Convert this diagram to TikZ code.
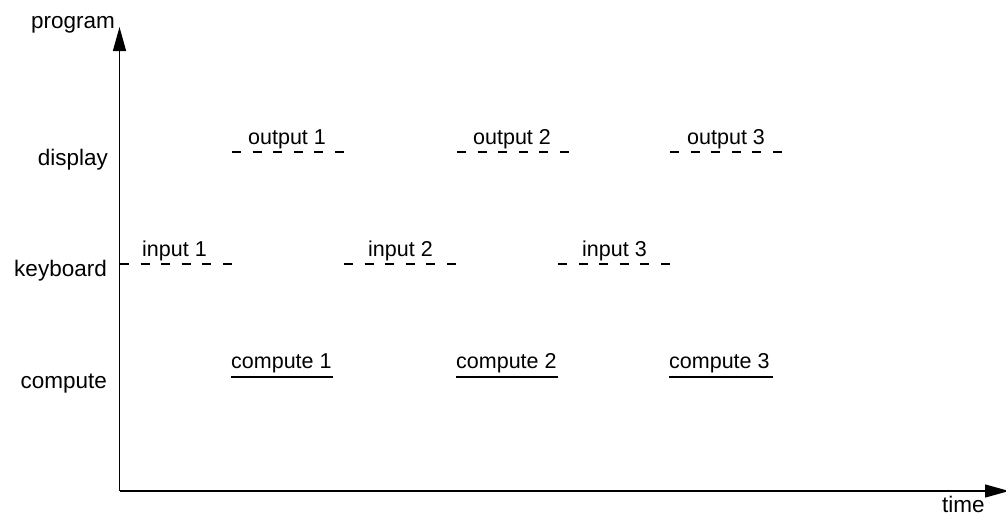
\documentclass[tikz,border=0pt]{standalone}
\usepackage{fontspec}
\setmainfont{Liberation Sans}
\usetikzlibrary{arrows.meta}
\begin{document}
\begin{tikzpicture}[x=1pt,y=-1pt,
  axis/.style={line width=1.3pt,-{Triangle[length=24pt,width=13pt]}},
  evdash/.style={line width=1.5pt,dash pattern=on 9pt off 11.6pt},
  evsolid/.style={line width=2.2pt},
  evlabel/.style={anchor=base west,inner sep=0pt,font=\fontsize{21.5}{24}\selectfont},
  axlabel/.style={anchor=base east,inner sep=0pt,font=\fontsize{22.5}{26}\selectfont}]
\useasboundingbox (0,0) rectangle (1006,517);
% axes
\coordinate (O) at (119.5,491);
\coordinate (Ytip) at (119.5,27);
\coordinate (Xtip) at (1009,491);
\draw[axis] (O) -- (Ytip);
\draw[axis] (O) -- (Xtip);
\node[axlabel] (program) at (115,28) {program};
\node[axlabel] (display) at (108,165) {display};
\node[axlabel] (keyboard) at (107,276) {keyboard};
\node[axlabel] (compute) at (107,388) {compute};
\node[anchor=base west,inner sep=0pt,font=\fontsize{22.5}{26}\selectfont] (time) at (942,512) {time};
% event lines
\coordinate (i1a) at (120,264); \coordinate (i1b) at (232,264);
\coordinate (i2a) at (344,264); \coordinate (i2b) at (457,264);
\coordinate (i3a) at (558,264); \coordinate (i3b) at (670,264);
\coordinate (o1a) at (232,152); \coordinate (o1b) at (345,152);
\coordinate (o2a) at (457,152); \coordinate (o2b) at (570,152);
\coordinate (o3a) at (670,152); \coordinate (o3b) at (783,152);
\coordinate (c1a) at (231,377); \coordinate (c1b) at (333,377);
\coordinate (c2a) at (456,377); \coordinate (c2b) at (558,377);
\coordinate (c3a) at (669,377); \coordinate (c3b) at (773,377);
\draw[evdash] (i1a) -- (i1b);
\draw[evdash] (i2a) -- (i2b);
\draw[evdash] (i3a) -- (i3b);
\draw[evdash] (o1a) -- (o1b);
\draw[evdash] (o2a) -- (o2b);
\draw[evdash] (o3a) -- (o3b);
\draw[evsolid] (c1a) -- (c1b);
\draw[evsolid] (c2a) -- (c2b);
\draw[evsolid] (c3a) -- (c3b);
\node[evlabel] (in1) at (142,256) {input 1};
\node[evlabel] (in2) at (368,256) {input 2};
\node[evlabel] (in3) at (582,256) {input 3};
\node[evlabel] (out1) at (248,144) {output 1};
\node[evlabel] (out2) at (473,144) {output 2};
\node[evlabel] (out3) at (687,144) {output 3};
\node[evlabel] (cp1) at (231,368) {compute 1};
\node[evlabel] (cp2) at (456,368) {compute 2};
\node[evlabel] (cp3) at (669,368) {compute 3};
\end{tikzpicture}
\end{document}
